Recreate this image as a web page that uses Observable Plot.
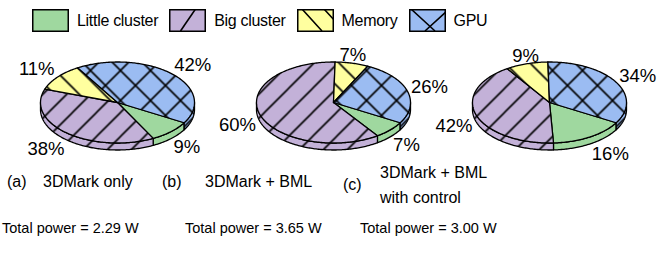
<!DOCTYPE html>
<html><head><meta charset="utf-8">
<script src="https://cdn.jsdelivr.net/npm/d3@7"></script>
<script src="https://cdn.jsdelivr.net/npm/@observablehq/plot@0.6"></script>
<style>
html,body{margin:0;padding:0;background:#fff;}
#root{position:relative;width:668px;height:253px;overflow:hidden;font-family:"Liberation Sans",Arial,sans-serif;color:#000;}
#legend{position:absolute;left:32px;top:9px;display:flex;align-items:center;font-size:16px;line-height:22px;letter-spacing:-0.3px;}
.item{display:flex;align-items:center;margin-right:11px;}
.item svg{display:block;margin-right:8px;}
#chart{position:absolute;left:0;top:40px;}
.cap{position:absolute;white-space:nowrap;line-height:18px;}
</style></head><body>
<svg width="0" height="0" style="position:absolute"><defs id="defs"></defs></svg>
<div id="root"><div id="legend"></div><div id="chart"></div><div id="captions"></div></div>
<script>
// ---- data ----
const categories = ["Little cluster", "Big cluster", "Memory", "GPU"];
const scenarios = ["(a)", "(b)", "(c)"];
const littleCluster = [9, 7, 16];
const bigCluster = [38, 60, 42];
const memory = [11, 7, 9];
const gpu = [42, 26, 34];
const captionTitles = [["3DMark only"], ["3DMark + BML"], ["3DMark + BML", "with control"]];
const totalPower = ["2.29", "3.65", "3.00"];

// ---- styles ----
const series = [littleCluster, bigCluster, memory, gpu];
const colors = ["#9fd89f", "#c3b1d8", "#ffff9f", "#9bbcf2"];
const hatches = ["none", "fwd", "back", "cross"];
const tileSize = [24, 24, 25, 30];
const legendLines = [
  "",
  "M11.5,22L26.5,0",
  "M5,0L25,22M27,0L39,13",
  "M2,0L26,22M16,22L38,2"
];
const RX = 77, RY = 40.5, DEPTH = 7, START = 2 * Math.PI / 3;

// ---- patterns ----
const NS = "http://www.w3.org/2000/svg";
const defs = document.getElementById("defs");
function makePattern(id, color, kind, w) {
  const h = w;
  const p = document.createElementNS(NS, "pattern");
  p.setAttribute("id", id);
  p.setAttribute("patternUnits", "userSpaceOnUse");
  p.setAttribute("width", w); p.setAttribute("height", h);
  const r = document.createElementNS(NS, "rect");
  r.setAttribute("width", w); r.setAttribute("height", h); r.setAttribute("fill", color);
  p.appendChild(r);
  let d = "";
  if (kind === "fwd" || kind === "cross") d += `M0,${h}L${w},0M${-w/2},${h/2}L${w/2},${-h/2}M${w/2},${h*1.5}L${w*1.5},${h/2}`;
  if (kind === "back" || kind === "cross") d += `M0,0L${w},${h}M${-w/2},${h/2}L${w/2},${h*1.5}M${w/2},${-h/2}L${w*1.5},${h/2}`;
  if (d) {
    const path = document.createElementNS(NS, "path");
    path.setAttribute("d", d); path.setAttribute("stroke", "#000"); path.setAttribute("stroke-width", 1.6); path.setAttribute("fill", "none");
    p.appendChild(path);
  }
  defs.appendChild(p);
  return `url(#${id})`;
}
const fills = categories.map((c, j) => makePattern("pat" + j, colors[j], hatches[j], tileSize[j]));

// ---- legend ----
const legend = document.getElementById("legend");
categories.forEach((c, j) => {
  const item = document.createElement("div");
  item.className = "item";
  item.innerHTML = `<svg width="37" height="23"><rect x="0.75" y="0.75" width="35.5" height="21.5" fill="${colors[j]}"/>` +
    (legendLines[j] ? `<path d="${legendLines[j]}" stroke="#000" stroke-width="1.6" fill="none"/>` : "") +
    `<rect x="0.75" y="0.75" width="35.5" height="21.5" fill="none" stroke="#000" stroke-width="1.5"/></svg><span>${c}</span>`;
  legend.appendChild(item);
});

// ---- geometry from data ----
const table = scenarios.flatMap((s, i) => categories.map((c, j) => ({scenario: s, category: c, value: series[j][i]})));
const tops = [], sides = [], labels = [];
const pt = t => [RX * Math.sin(t), -RY * Math.cos(t)];
const arcPts = (t0, t1) => {
  const n = Math.max(2, Math.ceil((t1 - t0) / (Math.PI / 180)));
  return d3.range(n + 1).map(i => pt(t0 + (t1 - t0) * i / n));
};
for (const s of scenarios) {
  const rows = table.filter(d => d.scenario === s);
  const arcs = d3.pie().sort(null).value(d => d.value).startAngle(START).endAngle(START + 2 * Math.PI)(rows);
  arcs.forEach((a, k) => {
    const id = s + k, cat = a.data.category;
    [[0, 0], ...arcPts(a.startAngle, a.endAngle), [0, 0]].forEach(([x, y]) => tops.push({scenario: s, category: cat, id, x, y}));
    for (const [f0, f1] of [[Math.PI / 2, 3 * Math.PI / 2], [Math.PI / 2 + 2 * Math.PI, 3 * Math.PI / 2 + 2 * Math.PI]]) {
      const t0 = Math.max(f0, a.startAngle), t1 = Math.min(f1, a.endAngle);
      if (t1 > t0) {
        const upper = arcPts(t0, t1);
        const lower = upper.map(([x, y]) => [x, y + DEPTH]).reverse();
        [...upper, ...lower, upper[0]].forEach(([x, y]) => sides.push({scenario: s, category: cat, id: id + "s" + f0, x, y}));
      }
    }
    const m = (a.startAngle + a.endAngle) / 2, sn = Math.sin(m), cs = Math.cos(m);
    const anchor = sn > 0.35 ? "start" : sn < -0.35 ? "end" : "middle";
    labels.push({
      scenario: s, text: a.data.value + "%",
      x: RX * sn + 4 * sn,
      y: -RY * cs + (cs < 0 ? DEPTH : 0) - (anchor === "middle" ? 8 : 12) * cs,
      anchor
    });
  });
}

const marks = [];
categories.forEach((c, j) => marks.push(Plot.line(sides.filter(d => d.category === c),
  {x: "x", y: "y", z: "id", fx: "scenario", fill: fills[j], stroke: "#000", strokeWidth: 1.3, strokeLinejoin: "round"})));
categories.forEach((c, j) => marks.push(Plot.line(tops.filter(d => d.category === c),
  {x: "x", y: "y", z: "id", fx: "scenario", fill: fills[j], stroke: "#000", strokeWidth: 1.3, strokeLinejoin: "round"})));
for (const anchor of ["start", "middle", "end"]) {
  marks.push(Plot.text(labels.filter(d => d.anchor === anchor),
    {x: "x", y: "y", fx: "scenario", text: "text", textAnchor: anchor, fontSize: 18.5, fill: "#000"}));
}

const chart = Plot.plot({
  width: 668, height: 125,
  marginLeft: 9, marginRight: 11, marginTop: 0, marginBottom: 0,
  fx: {domain: scenarios, padding: 0, axis: null},
  x: {domain: [-108, 108], axis: null},
  y: {domain: [63, -62], axis: null},
  style: {fontFamily: "'Liberation Sans', Arial, sans-serif", background: "transparent", overflow: "visible"},
  marks
});
document.getElementById("chart").appendChild(chart);

// ---- captions ----
const capLayout = [
  {letterX: 7, textX: 43, letterY: 173, textY: 173, powerX: 2},
  {letterX: 162, textX: 205, letterY: 173, textY: 173, powerX: 185},
  {letterX: 343, textX: 380, letterY: 176, textY: 164, powerX: 360}
];
const caps = document.getElementById("captions");
scenarios.forEach((s, i) => {
  const L = capLayout[i];
  const add = (txt, x, y, fs) => {
    const e = document.createElement("div");
    e.className = "cap"; e.textContent = txt;
    e.style.left = x + "px"; e.style.top = y + "px"; e.style.fontSize = fs + "px";
    caps.appendChild(e);
  };
  add(s, L.letterX, L.letterY, 16);
  captionTitles[i].forEach((t, k) => add(t, L.textX, L.textY + k * 25, 16));
  add(`Total power = ${totalPower[i]} W`, L.powerX, 219, 14.5);
});
</script>
</body></html>
